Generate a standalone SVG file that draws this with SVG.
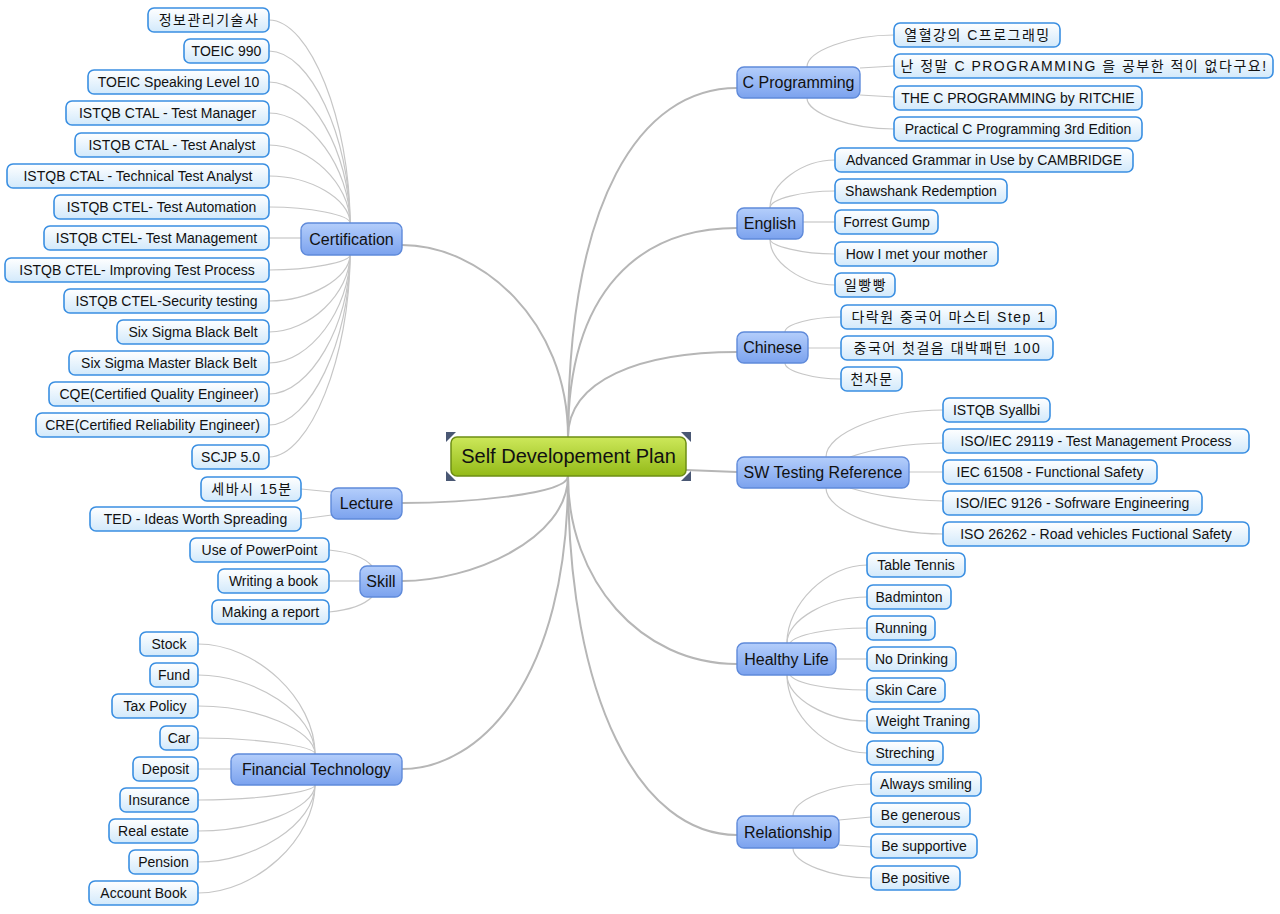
<svg xmlns="http://www.w3.org/2000/svg" width="1280" height="914" viewBox="0 0 1280 914">
<defs>
<linearGradient id="leafG" x1="0" y1="0" x2="0" y2="1"><stop offset="0" stop-color="#ffffff"/><stop offset="1" stop-color="#d2e9fb"/></linearGradient>
<linearGradient id="brG" x1="0" y1="0" x2="0" y2="1"><stop offset="0" stop-color="#b4cefb"/><stop offset="1" stop-color="#7ba2ee"/></linearGradient>
<linearGradient id="ctG" x1="0" y1="0" x2="0" y2="1"><stop offset="0" stop-color="#cde85a"/><stop offset="1" stop-color="#93ba18"/></linearGradient>
</defs>
<style>
.leaf rect{fill:url(#leafG);stroke:#3a8fe2;stroke-width:1.6}
.leaf text{font-family:"Liberation Sans","Noto Sans CJK KR",sans-serif;font-size:14px;fill:#111;text-anchor:middle}
.leaf text.ko{letter-spacing:1.5px}
.br rect{fill:url(#brG);stroke:#5f8ada;stroke-width:1.4}
.br text{font-family:"Liberation Sans","Noto Sans CJK KR",sans-serif;font-size:16px;fill:#111;text-anchor:middle}
.main{fill:none;stroke:#b6b6b6;stroke-width:2}
.sub{fill:none;stroke:#c6c6c6;stroke-width:1.2}
</style>
<rect width="1280" height="914" fill="#ffffff"/>
<g id="connectors">
<path class="main" d="M568,437 C568,320 480,245 402,245"/>
<path class="main" d="M568,476 C568,495 460,503 402,503"/>
<path class="main" d="M568,476 C568,540 470,581 402,581"/>
<path class="main" d="M568,476 C568,680 480,769 402,769"/>
<path class="main" d="M568,437 C568,200 640,88 737,88"/>
<path class="main" d="M568,437 C568,290 640,228 737,228"/>
<path class="main" d="M568,437 C568,380 640,352 737,352"/>
<path class="main" d="M686,470 L737,472"/>
<path class="main" d="M568,476 C568,580 640,664 737,664"/>
<path class="main" d="M568,476 C568,700 640,835 737,835"/>
<path class="sub" d="M269,20 C310,20 350,121 350,223"/>
<path class="sub" d="M269,51 C310,51 350,137 350,223"/>
<path class="sub" d="M269,82 C310,82 350,152 350,223"/>
<path class="sub" d="M269,113 C310,113 350,168 350,223"/>
<path class="sub" d="M269,145 C310,145 350,184 350,223"/>
<path class="sub" d="M269,176 C310,176 350,199 350,223"/>
<path class="sub" d="M269,207 C310,207 350,215 350,223"/>
<path class="sub" d="M269,238 L301,238"/>
<path class="sub" d="M269,270 C310,270 350,262 350,255"/>
<path class="sub" d="M269,301 C310,301 350,278 350,255"/>
<path class="sub" d="M269,332 C310,332 350,293 350,255"/>
<path class="sub" d="M269,363 C310,363 350,309 350,255"/>
<path class="sub" d="M269,394 C310,394 350,324 350,255"/>
<path class="sub" d="M269,425 C310,425 350,340 350,255"/>
<path class="sub" d="M269,457 C310,457 350,356 350,255"/>
<path class="sub" d="M301,489 L332,492"/>
<path class="sub" d="M301,519 L332,515"/>
<path class="sub" d="M329,550 C350,552 365,558 372,566"/>
<path class="sub" d="M329,581 L360,581"/>
<path class="sub" d="M329,612 C350,610 365,604 372,597"/>
<path class="sub" d="M198,644 C256,644 315,699 315,754"/>
<path class="sub" d="M198,675 C256,675 315,714 315,754"/>
<path class="sub" d="M198,706 C256,706 315,730 315,754"/>
<path class="sub" d="M198,738 C256,738 315,746 315,754"/>
<path class="sub" d="M198,769 L231,769"/>
<path class="sub" d="M198,800 C256,800 315,792 315,785"/>
<path class="sub" d="M198,831 C256,831 315,808 315,785"/>
<path class="sub" d="M198,862 C256,862 315,823 315,785"/>
<path class="sub" d="M198,893 C256,893 315,839 315,785"/>
<path class="sub" d="M807,67 C807,51 850,35 894,35"/>
<path class="sub" d="M860,68 L894,66"/>
<path class="sub" d="M860,95 L894,97"/>
<path class="sub" d="M807,98 C807,113 850,129 894,129"/>
<path class="sub" d="M770,208 C770,184 802,160 835,160"/>
<path class="sub" d="M770,208 C770,199 802,191 835,191"/>
<path class="sub" d="M803,222 L835,222"/>
<path class="sub" d="M770,239 C770,246 802,254 835,254"/>
<path class="sub" d="M770,239 C770,262 802,285 835,285"/>
<path class="sub" d="M785,332 C785,324 813,317 841,317"/>
<path class="sub" d="M808,348 L841,348"/>
<path class="sub" d="M785,363 C785,371 813,379 841,379"/>
<path class="sub" d="M826,457 C826,433 884,410 943,410"/>
<path class="sub" d="M850,457 C870,450 900,444 943,443"/>
<path class="sub" d="M909,472 L943,472"/>
<path class="sub" d="M850,488 C870,494 900,500 943,501"/>
<path class="sub" d="M826,488 C826,511 884,534 943,534"/>
<path class="sub" d="M787,643 C787,604 827,565 867,565"/>
<path class="sub" d="M787,643 C787,620 827,597 867,597"/>
<path class="sub" d="M790,643 C795,635 827,628 867,628"/>
<path class="sub" d="M836,659 L867,659"/>
<path class="sub" d="M790,675 C795,683 827,690 867,690"/>
<path class="sub" d="M787,675 C787,698 827,721 867,721"/>
<path class="sub" d="M787,675 C787,714 827,753 867,753"/>
<path class="sub" d="M793,816 C793,800 832,784 871,784"/>
<path class="sub" d="M839,820 L871,817"/>
<path class="sub" d="M839,845 L871,847"/>
<path class="sub" d="M793,848 C793,863 832,878 871,878"/>
</g>
<g id="center">
<rect x="451" y="437" width="235" height="39" rx="6" fill="url(#ctG)" stroke="#6e8e14" stroke-width="1.5"/>
<text x="568.5" y="463" font-family="Liberation Sans, sans-serif" font-size="20" fill="#111" text-anchor="middle">Self Developement Plan</text>
<g fill="#4a5874">
<polygon points="446,432 456,432 446,442"/>
<polygon points="691,432 681,432 691,442"/>
<polygon points="446,481 456,481 446,471"/>
<polygon points="691,481 681,481 691,471"/>
</g>
</g>
<g id="br-cert" class="br"><rect x="301" y="223" width="101" height="32" rx="7"/><text x="351.5" y="245">Certification</text></g>
<g id="br-lecture" class="br"><rect x="331" y="488" width="71" height="31" rx="7"/><text x="366.5" y="509">Lecture</text></g>
<g id="br-skill" class="br"><rect x="360" y="566" width="42" height="31" rx="7"/><text x="381" y="587">Skill</text></g>
<g id="br-fin" class="br"><rect x="231" y="754" width="171" height="31" rx="7"/><text x="316.5" y="775">Financial Technology</text></g>
<g id="br-c" class="br"><rect x="737" y="67" width="123" height="31" rx="7"/><text x="798.5" y="88">C Programming</text></g>
<g id="br-eng" class="br"><rect x="737" y="208" width="66" height="31" rx="7"/><text x="770" y="229">English</text></g>
<g id="br-chn" class="br"><rect x="737" y="332" width="71" height="31" rx="7"/><text x="772.5" y="353">Chinese</text></g>
<g id="br-sw" class="br"><rect x="737" y="457" width="172" height="31" rx="7"/><text x="823" y="478">SW Testing Reference</text></g>
<g id="br-health" class="br"><rect x="737" y="643" width="99" height="32" rx="7"/><text x="786.5" y="665">Healthy Life</text></g>
<g id="br-rel" class="br"><rect x="737" y="816" width="102" height="32" rx="7"/><text x="788" y="838">Relationship</text></g>
<g id="l-c1" class="leaf"><rect x="148" y="8" width="121" height="24" rx="6"/><text class="ko" x="209" y="25">정보관리기술사</text></g>
<g id="l-c2" class="leaf"><rect x="184" y="39" width="85" height="24" rx="6"/><text x="226.5" y="56">TOEIC 990</text></g>
<g id="l-c3" class="leaf"><rect x="88" y="70" width="181" height="24" rx="6"/><text x="178.5" y="87">TOEIC Speaking Level 10</text></g>
<g id="l-c4" class="leaf"><rect x="66" y="101" width="203" height="24" rx="6"/><text x="167.5" y="118">ISTQB CTAL - Test Manager</text></g>
<g id="l-c5" class="leaf"><rect x="75" y="133" width="194" height="24" rx="6"/><text x="172" y="150">ISTQB CTAL - Test Analyst</text></g>
<g id="l-c6" class="leaf"><rect x="7" y="164" width="262" height="24" rx="6"/><text x="138" y="181">ISTQB CTAL - Technical Test Analyst</text></g>
<g id="l-c7" class="leaf"><rect x="54" y="195" width="215" height="24" rx="6"/><text x="161.5" y="212">ISTQB CTEL- Test Automation</text></g>
<g id="l-c8" class="leaf"><rect x="44" y="226" width="225" height="24" rx="6"/><text x="156.5" y="243">ISTQB CTEL- Test Management</text></g>
<g id="l-c9" class="leaf"><rect x="5" y="258" width="264" height="24" rx="6"/><text x="137" y="275">ISTQB CTEL- Improving Test Process</text></g>
<g id="l-c10" class="leaf"><rect x="64" y="289" width="205" height="24" rx="6"/><text x="166.5" y="306">ISTQB CTEL-Security testing</text></g>
<g id="l-c11" class="leaf"><rect x="117" y="320" width="152" height="24" rx="6"/><text x="193" y="337">Six Sigma Black Belt</text></g>
<g id="l-c12" class="leaf"><rect x="69" y="351" width="200" height="24" rx="6"/><text x="169" y="368">Six Sigma Master Black Belt</text></g>
<g id="l-c13" class="leaf"><rect x="49" y="382" width="220" height="24" rx="6"/><text x="159" y="399">CQE(Certified Quality Engineer)</text></g>
<g id="l-c14" class="leaf"><rect x="36" y="413" width="233" height="24" rx="6"/><text x="152.5" y="430">CRE(Certified Reliability Engineer)</text></g>
<g id="l-c15" class="leaf"><rect x="192" y="445" width="77" height="24" rx="6"/><text x="230.5" y="462">SCJP 5.0</text></g>
<g id="l-l1" class="leaf"><rect x="201" y="477" width="100" height="24" rx="6"/><text class="ko" x="252" y="494">세바시 15분</text></g>
<g id="l-l2" class="leaf"><rect x="90" y="507" width="211" height="24" rx="6"/><text x="195.5" y="524">TED - Ideas Worth Spreading</text></g>
<g id="l-s1" class="leaf"><rect x="190" y="538" width="139" height="24" rx="6"/><text x="259.5" y="555">Use of PowerPoint</text></g>
<g id="l-s2" class="leaf"><rect x="218" y="569" width="111" height="24" rx="6"/><text x="273.5" y="586">Writing a book</text></g>
<g id="l-s3" class="leaf"><rect x="212" y="600" width="117" height="24" rx="6"/><text x="270.5" y="617">Making a report</text></g>
<g id="l-f1" class="leaf"><rect x="140" y="632" width="58" height="24" rx="6"/><text x="169" y="649">Stock</text></g>
<g id="l-f2" class="leaf"><rect x="150" y="663" width="48" height="24" rx="6"/><text x="174" y="680">Fund</text></g>
<g id="l-f3" class="leaf"><rect x="112" y="694" width="86" height="24" rx="6"/><text x="155" y="711">Tax Policy</text></g>
<g id="l-f4" class="leaf"><rect x="160" y="726" width="38" height="24" rx="6"/><text x="179" y="743">Car</text></g>
<g id="l-f5" class="leaf"><rect x="133" y="757" width="65" height="24" rx="6"/><text x="165.5" y="774">Deposit</text></g>
<g id="l-f6" class="leaf"><rect x="120" y="788" width="78" height="24" rx="6"/><text x="159" y="805">Insurance</text></g>
<g id="l-f7" class="leaf"><rect x="109" y="819" width="89" height="24" rx="6"/><text x="153.5" y="836">Real estate</text></g>
<g id="l-f8" class="leaf"><rect x="129" y="850" width="69" height="24" rx="6"/><text x="163.5" y="867">Pension</text></g>
<g id="l-f9" class="leaf"><rect x="89" y="881" width="109" height="24" rx="6"/><text x="143.5" y="898">Account Book</text></g>
<g id="l-p1" class="leaf"><rect x="894" y="23" width="166" height="24" rx="6"/><text class="ko" x="977.5" y="40">열혈강의 C프로그래밍</text></g>
<g id="l-p2" class="leaf"><rect x="894" y="54" width="379" height="24" rx="6"/><text class="ko" x="1084" y="71">난 정말 C PROGRAMMING 을 공부한 적이 없다구요!</text></g>
<g id="l-p3" class="leaf"><rect x="894" y="86" width="248" height="24" rx="6"/><text x="1018" y="103">THE C PROGRAMMING by RITCHIE</text></g>
<g id="l-p4" class="leaf"><rect x="894" y="117" width="248" height="24" rx="6"/><text x="1018" y="134">Practical C Programming 3rd Edition</text></g>
<g id="l-e1" class="leaf"><rect x="835" y="148" width="298" height="24" rx="6"/><text x="984" y="165">Advanced Grammar in Use by CAMBRIDGE</text></g>
<g id="l-e2" class="leaf"><rect x="835" y="179" width="172" height="24" rx="6"/><text x="921" y="196">Shawshank Redemption</text></g>
<g id="l-e3" class="leaf"><rect x="835" y="210" width="103" height="24" rx="6"/><text x="886.5" y="227">Forrest Gump</text></g>
<g id="l-e4" class="leaf"><rect x="835" y="242" width="163" height="24" rx="6"/><text x="916.5" y="259">How I met your mother</text></g>
<g id="l-e5" class="leaf"><rect x="835" y="273" width="60" height="24" rx="6"/><text class="ko" x="865.5" y="290">일빵빵</text></g>
<g id="l-h1" class="leaf"><rect x="841" y="305" width="215" height="24" rx="6"/><text class="ko" x="949" y="322">다락원 중국어 마스티 Step 1</text></g>
<g id="l-h2" class="leaf"><rect x="841" y="336" width="212" height="24" rx="6"/><text class="ko" x="947.5" y="353">중국어 첫걸음 대박패턴 100</text></g>
<g id="l-h3" class="leaf"><rect x="841" y="367" width="61" height="24" rx="6"/><text class="ko" x="872" y="384">천자문</text></g>
<g id="l-t1" class="leaf"><rect x="943" y="398" width="107" height="24" rx="6"/><text x="996.5" y="415">ISTQB Syallbi</text></g>
<g id="l-t2" class="leaf"><rect x="943" y="429" width="306" height="24" rx="6"/><text x="1096" y="446">ISO/IEC 29119 - Test Management Process</text></g>
<g id="l-t3" class="leaf"><rect x="943" y="460" width="214" height="24" rx="6"/><text x="1050" y="477">IEC 61508 - Functional Safety</text></g>
<g id="l-t4" class="leaf"><rect x="943" y="491" width="259" height="24" rx="6"/><text x="1072.5" y="508">ISO/IEC 9126 - Sofrware Engineering</text></g>
<g id="l-t5" class="leaf"><rect x="943" y="522" width="306" height="24" rx="6"/><text x="1096" y="539">ISO 26262 - Road vehicles Fuctional Safety</text></g>
<g id="l-y1" class="leaf"><rect x="867" y="553" width="98" height="24" rx="6"/><text x="916" y="570">Table Tennis</text></g>
<g id="l-y2" class="leaf"><rect x="867" y="585" width="84" height="24" rx="6"/><text x="909" y="602">Badminton</text></g>
<g id="l-y3" class="leaf"><rect x="867" y="616" width="68" height="24" rx="6"/><text x="901" y="633">Running</text></g>
<g id="l-y4" class="leaf"><rect x="867" y="647" width="89" height="24" rx="6"/><text x="911.5" y="664">No Drinking</text></g>
<g id="l-y5" class="leaf"><rect x="867" y="678" width="78" height="24" rx="6"/><text x="906" y="695">Skin Care</text></g>
<g id="l-y6" class="leaf"><rect x="867" y="709" width="112" height="24" rx="6"/><text x="923" y="726">Weight Traning</text></g>
<g id="l-y7" class="leaf"><rect x="867" y="741" width="76" height="24" rx="6"/><text x="905" y="758">Streching</text></g>
<g id="l-r1" class="leaf"><rect x="871" y="772" width="110" height="24" rx="6"/><text x="926" y="789">Always smiling</text></g>
<g id="l-r2" class="leaf"><rect x="871" y="803" width="99" height="24" rx="6"/><text x="920.5" y="820">Be generous</text></g>
<g id="l-r3" class="leaf"><rect x="871" y="834" width="106" height="24" rx="6"/><text x="924" y="851">Be supportive</text></g>
<g id="l-r4" class="leaf"><rect x="871" y="866" width="89" height="24" rx="6"/><text x="915.5" y="883">Be positive</text></g>
</svg>
